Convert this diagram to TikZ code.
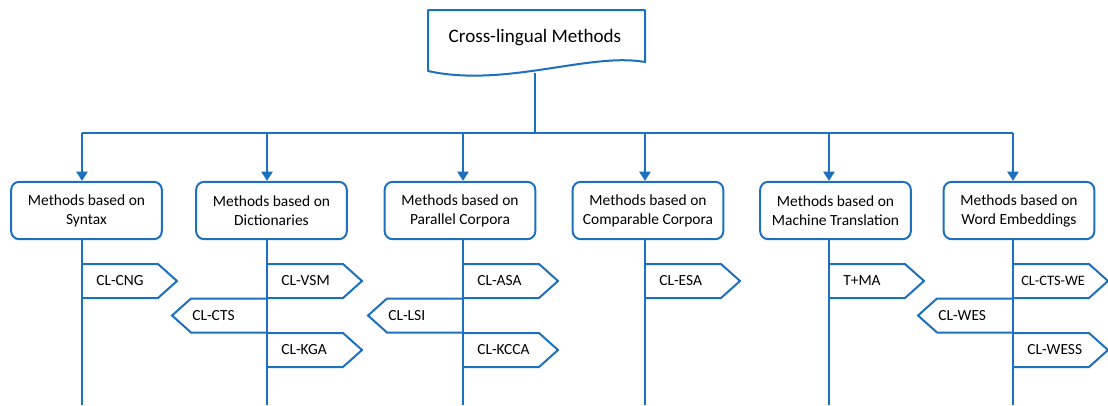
\documentclass[tikz,border=0pt]{standalone}
\usepackage{fontspec}
\setmainfont{Carlito}
\usetikzlibrary{arrows.meta}
\definecolor{clblue}{RGB}{28,112,190}
\tikzset{
	cl line/.style={line width=1.5pt, color=clblue},
	method box/.style={draw=clblue, line width=1.5pt, rounded corners=6pt, fill=white, align=center, minimum width=113pt, minimum height=43pt, inner sep=2pt, font=\fontsize{11.6}{14.3}\selectfont},
	tag text/.style={anchor=west, inner sep=0pt, font=\fontsize{11.6}{14}\selectfont}
}
\def\tagright(#1,#2)#3#4{\draw[cl line] (#1,#2-17) -- (#1+76,#2-17) -- (#1+95,#2) -- (#1+76,#2+17) -- (#1,#2+17);
	\node[tag text] (#3) at (#1+14,#2) {#4};}
\def\tagleft(#1,#2)#3#4{\draw[cl line] (#1,#2-17) -- (#1-76,#2-17) -- (#1-95,#2) -- (#1-76,#2+17) -- (#1,#2+17);
	\node[tag text] (#3) at (#1-75,#2) {#4};}

\begin{document}
\begin{tikzpicture}[x=0.75pt, y=-0.75pt]
		%%%%% START %%%%%
		\useasboundingbox (0, 0) rectangle (1108, 405);
		
		\draw[cl line, line join=round] (428, 10) -- (645, 10) -- (645, 62) .. controls (590, 52) and (505, 88) .. (428, 71) -- cycle;
		\node[font=\fontsize{14.3}{16}\selectfont] (root) at (535, 38) {Cross-lingual Methods};
		\coordinate (rootfoot) at (535, 73);
		\coordinate (hub) at (535, 133);
		\draw[cl line] (rootfoot) -- (hub);
		
		\node[method box] (m1) at (86.5, 210.5) {Methods based on\\Syntax};
		\node[method box] (m2) at (271.5, 210.5) {Methods based on\\Dictionaries};
		\node[method box] (m3) at (460, 210.5) {Methods based on\\Parallel Corpora};
		\node[method box] (m4) at (648, 210.5) {Methods based on\\Comparable Corpora};
		\node[method box] (m5) at (835.5, 210.5) {Methods based on\\Machine Translation};
		\node[method box] (m6) at (1019, 210.5) {Methods based on\\Word Embeddings};
		
		\coordinate (s1) at (82, 133);
		\coordinate (s2) at (267, 133);
		\coordinate (s3) at (463, 133);
		\coordinate (s4) at (645, 133);
		\coordinate (s5) at (829, 133);
		\coordinate (s6) at (1013, 133);
		\coordinate (foot) at (0, 405);
		
		\draw[cl line] (s1) -- (s6);
		
		\draw[cl line, -{Triangle[width=8.5pt, length=7pt]}] (s1) -- (s1 |- m1.north);
		\draw[cl line, -{Triangle[width=8.5pt, length=7pt]}] (s2) -- (s2 |- m2.north);
		\draw[cl line, -{Triangle[width=8.5pt, length=7pt]}] (s3) -- (s3 |- m3.north);
		\draw[cl line, -{Triangle[width=8.5pt, length=7pt]}] (s4) -- (s4 |- m4.north);
		\draw[cl line, -{Triangle[width=8.5pt, length=7pt]}] (s5) -- (s5 |- m5.north);
		\draw[cl line, -{Triangle[width=8.5pt, length=7pt]}] (s6) -- (s6 |- m6.north);
		
		\draw[cl line] (s1 |- m1.south) -- (s1 |- foot);
		\draw[cl line] (s2 |- m2.south) -- (s2 |- foot);
		\draw[cl line] (s3 |- m3.south) -- (s3 |- foot);
		\draw[cl line] (s4 |- m4.south) -- (s4 |- foot);
		\draw[cl line] (s5 |- m5.south) -- (s5 |- foot);
		\draw[cl line] (s6 |- m6.south) -- (s6 |- foot);
		
		\tagright(82,281){cng}{CL-CNG}
		
		\tagright(267,281){vsm}{CL-VSM}
		\tagleft(267,315.5){cts}{CL-CTS}
		\tagright(267,350){kga}{CL-KGA}
		
		\tagright(463,281){asa}{CL-ASA}
		\tagleft(463,315.5){lsi}{CL-LSI}
		\tagright(463,350){kcca}{CL-KCCA}
		
		\tagright(645,281){esa}{CL-ESA}
		
		\tagright(829,281){tma}{T+MA}
		
		\draw[cl line] (1013,264) -- (1089,264) -- (1108,281) -- (1089,298) -- (1013,298);
		\node[tag text, font=\fontsize{10.8}{13}\selectfont] (ctswe) at (1021,281) {CL-CTS-WE};
		\tagleft(1013,315.5){wes}{CL-WES}
		\tagright(1013,350){wess}{CL-WESS}
		
		%%%%% END %%%%%
	\end{tikzpicture}
\end{document}
